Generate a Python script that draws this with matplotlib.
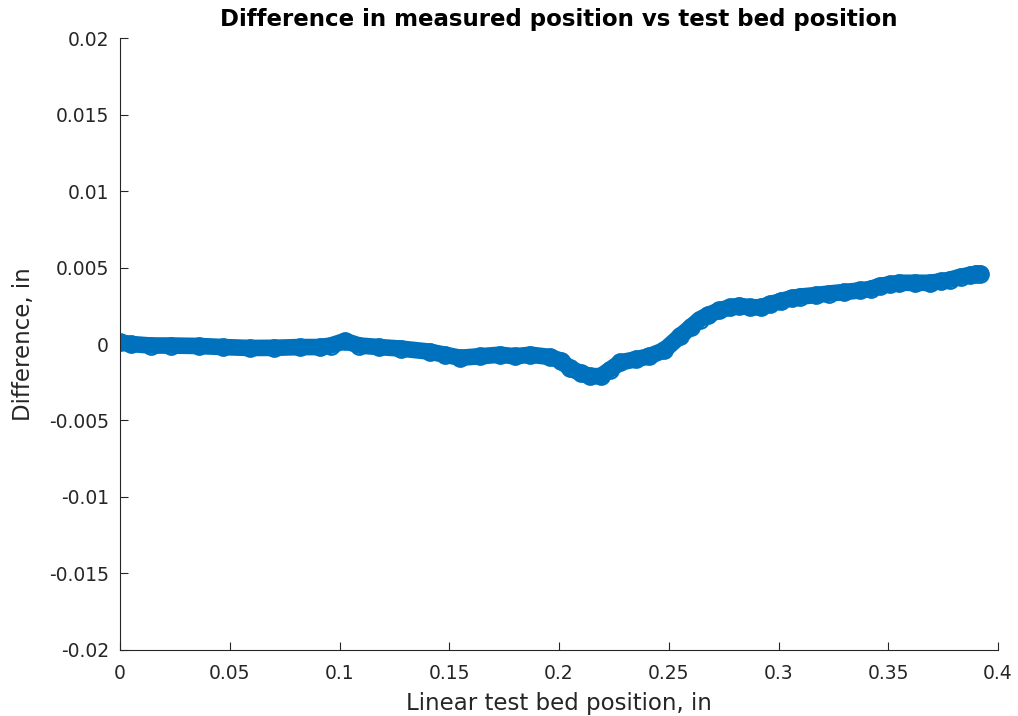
import matplotlib
matplotlib.use('Agg')
import matplotlib.pyplot as plt

# Values (inches)
bed_pos = [0.000, 0.005, 0.014, 0.023, 0.036, 0.047, 0.059, 0.070, 0.082, 0.091,
           0.096, 0.1025, 0.109, 0.118, 0.128, 0.141, 0.148, 0.155, 0.164, 0.173,
           0.180, 0.187, 0.196, 0.201, 0.205, 0.210, 0.214, 0.219, 0.223, 0.228,
           0.235, 0.241, 0.248, 0.255, 0.260, 0.264, 0.268, 0.273, 0.278, 0.282,
           0.287, 0.292, 0.296, 0.301, 0.306, 0.310, 0.317, 0.323, 0.330, 0.337,
           0.342, 0.346, 0.351, 0.355, 0.362, 0.369, 0.374, 0.378, 0.383, 0.387,
           0.390, 0.392]
difference = [0.0001, 0.0000, -0.0001, -0.0001, -0.00013, -0.0002, -0.00026, -0.00025, -0.0002, -0.0002,
              -0.0001, 0.0002, -0.0001, -0.0002, -0.0003, -0.0005, -0.0007, -0.0009, -0.0008, -0.0007,
              -0.0008, -0.0007, -0.00085, -0.0011, -0.0016, -0.0019, -0.0021, -0.0021, -0.0017, -0.0012,
              -0.0010, -0.0008, -0.0004, 0.0005, 0.0011, 0.0016, 0.0019, 0.0022, 0.0024, 0.0025,
              0.0024, 0.0024, 0.0026, 0.0028, 0.0030, 0.0031, 0.0032, 0.0033, 0.0034, 0.0035,
              0.0036, 0.0038, 0.0039, 0.0040, 0.0040, 0.0040, 0.0041, 0.0042, 0.0044, 0.0045,
              0.0046, 0.0046]

xticks = [0, 0.05, 0.1, 0.15, 0.2, 0.25, 0.3, 0.35, 0.4]
yticks = [-0.02, -0.015, -0.01, -0.005, 0, 0.005, 0.01, 0.015, 0.02]

blue = '#0072BD'
grey = '#262626'

fig = plt.figure(figsize=(10.18, 7.16), dpi=100)
ax = fig.add_axes([0.1179, 0.0922, 0.8625, 0.8547])

# thick band plus hollow circle markers, like the dense MATLAB marker plot
ax.plot(bed_pos, difference, '-', color=blue, lw=12, solid_capstyle='round',
        solid_joinstyle='round')
ax.plot(bed_pos, difference, 'o', color=blue, mfc='none', ms=12, mew=1.5)

ax.set_xlim(0, 0.4)
ax.set_ylim(-0.02, 0.02)
ax.set_xticks(xticks)
ax.set_yticks(yticks)
ax.set_xticklabels([f'{v:g}' for v in xticks])
ax.set_yticklabels([f'{v:g}' for v in yticks])

for side in ['top', 'right']:
    ax.spines[side].set_visible(False)
for side in ['left', 'bottom']:
    ax.spines[side].set_color(grey)
    ax.spines[side].set_linewidth(0.8)

ax.tick_params(direction='in', length=6, width=0.8, colors=grey, labelsize=13.5)
ax.tick_params(axis='x', pad=10)
ax.tick_params(axis='y', pad=8)

ax.set_title('Difference in measured position vs test bed position',
             fontsize=16.5, fontweight='bold', color='black', pad=9)
ax.set_xlabel('Linear test bed position, in', fontsize=16.5, color=grey, labelpad=6.5)
ax.set_ylabel('Difference, in', fontsize=16.5, color=grey, labelpad=10)

fig.savefig('out.png', dpi=100)
